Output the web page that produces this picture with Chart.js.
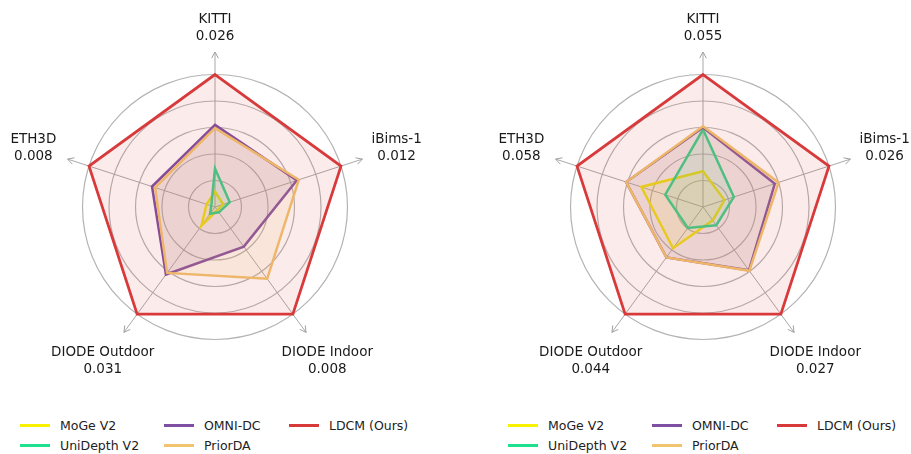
<!DOCTYPE html>
<html lang="en">
<head>
<meta charset="UTF-8">
<title>Radar comparison</title>
<script src="https://cdn.jsdelivr.net/npm/chart.js"></script>
<style>
    body {
        margin: 0;
        background: #ffffff;
        font-family: 'DejaVu Sans', Verdana, sans-serif;
    }
    #page {
        position: relative;
        width: 911px;
        height: 454px;
        overflow: hidden;
    }
    .panel {
        position: absolute;
        top: 0;
        width: 455px;
        height: 400px;
    }
    .legend {
        position: absolute;
        top: 415px;
        display: grid;
        grid-template-columns: 144px 125px auto;
        grid-auto-flow: column;
        grid-template-rows: 20.5px 20.5px;
        font-size: 12.5px;
        color: #222;
    }
    .legend div {
        display: flex;
        align-items: center;
        white-space: nowrap;
    }
    .legend span.swatch {
        display: inline-block;
        width: 30px;
        height: 3px;
        margin-right: 10px;
    }
</style>
</head>
<body>
<div id="page">
    <div class="panel" style="left:0"><canvas id="leftChart"></canvas></div>
    <div class="panel" style="left:455px"><canvas id="rightChart"></canvas></div>
    <div class="legend" id="leftLegend" style="left:20px"></div>
    <div class="legend" id="rightLegend" style="left:508px"></div>
</div>

<script>
    // axes of both radars
    const categories = ['KITTI', 'iBims-1', 'DIODE Indoor', 'DIODE Outdoor', 'ETH3D'];
    // value printed under each axis name
    const leftAxisValues = ['0.026', '0.012', '0.008', '0.031', '0.008'];
    const rightAxisValues = ['0.055', '0.026', '0.027', '0.044', '0.058'];

    const seriesNames = ['MoGe V2', 'UniDepth V2', 'OMNI-DC', 'PriorDA', 'LDCM (Ours)'];
    const seriesColors = ['#f8f200', '#1fe08c', '#7e4fa3', '#f0c46e', '#d83a3b'];

    // normalised scores (LDCM = 1)
    const leftMoge = [0.115, 0.065, 0.03, 0.175, 0.067];
    const leftUnidepth = [0.29, 0.117, 0.05, 0.063, 0.03];
    const leftOmni = [0.62, 0.65, 0.37, 0.63, 0.50];
    const leftPrior = [0.595, 0.665, 0.67, 0.615, 0.475];
    const leftLdcm = [1, 1, 1, 1, 1];

    const rightMoge = [0.27, 0.17, 0.125, 0.385, 0.49];
    const rightUnidepth = [0.585, 0.245, 0.17, 0.195, 0.30];
    const rightOmni = [0.60, 0.57, 0.59, 0.47, 0.61];
    const rightPrior = [0.61, 0.60, 0.595, 0.47, 0.61];
    const rightLdcm = [1, 1, 1, 1, 1];

    function fade(hex, a) {
        const n = parseInt(hex.slice(1), 16);
        return `rgba(${(n >> 16) & 255}, ${(n >> 8) & 255}, ${n & 255}, ${a})`;
    }

    // arrow heads at the end of each spoke + two-line axis labels
    const spokePlugin = {
        id: 'spokes',
        afterDraw(chart, args, opts) {
            const scale = chart.scales.r;
            const ctx = chart.ctx;
            const n = chart.data.labels.length;
            ctx.save();
            ctx.strokeStyle = '#a0a0a0';
            ctx.lineWidth = 1;
            for (let i = 0; i < n; i++) {
                const tip = scale.getPointPosition(i, scale.drawingArea);
                const a = tip.angle;
                ctx.beginPath();
                ctx.moveTo(tip.x - 7 * Math.cos(a - 0.5), tip.y - 7 * Math.sin(a - 0.5));
                ctx.lineTo(tip.x, tip.y);
                ctx.lineTo(tip.x - 7 * Math.cos(a + 0.5), tip.y - 7 * Math.sin(a + 0.5));
                ctx.stroke();
            }
            ctx.fillStyle = '#1a1a1a';
            ctx.font = "13.5px 'DejaVu Sans'";
            ctx.textAlign = 'center';
            ctx.textBaseline = 'middle';
            for (let i = 0; i < n; i++) {
                const up = Math.abs(Math.sin(scale.getIndexAngle(i))) < 0.01;
                const pos = scale.getPointPosition(i, scale.drawingArea * (up ? 1.152 : 1.232));
                ctx.fillText(chart.data.labels[i], pos.x, pos.y - 8.5);
                ctx.fillText(opts.values[i], pos.x, pos.y + 8.5);
            }
            ctx.restore();
        }
    };

    function makeRadar(id, series, values, padLeft, padRight) {
        const datasets = series.map((data, i) => ({
            label: seriesNames[i],
            data: data,
            borderColor: seriesColors[i],
            backgroundColor: fade(seriesColors[i], i === 4 ? 0.1 : 0.12),
            borderWidth: i === 4 ? 2.8 : 2.5,
            fill: true,
            pointRadius: 0,
            order: series.length - i
        }));
        new Chart(document.getElementById(id), {
            type: 'radar',
            data: { labels: categories, datasets: datasets },
            plugins: [spokePlugin],
            options: {
                responsive: true,
                maintainAspectRatio: false,
                animation: false,
                layout: { padding: { left: padLeft, right: padRight, top: 52, bottom: 38 } },
                plugins: {
                    legend: { display: false },
                    tooltip: { enabled: false },
                    spokes: { values: values }
                },
                scales: {
                    r: {
                        min: 0,
                        max: 1.17,
                        ticks: { display: false, stepSize: 0.2, includeBounds: false },
                        grid: {
                            circular: true,
                            color: c => (c.tick && c.tick.value > 1.001) ? 'rgba(0,0,0,0)' : '#b4b4b4',
                            lineWidth: 1.2
                        },
                        angleLines: { color: '#a8a8a8', lineWidth: 1 },
                        pointLabels: { display: false }
                    }
                }
            }
        });
    }

    function makeLegend(id) {
        const box = document.getElementById(id);
        seriesNames.forEach((name, i) => {
            const item = document.createElement('div');
            item.innerHTML = `<span class="swatch" style="background:${seriesColors[i]}"></span>${name}`;
            box.appendChild(item);
        });
    }

    makeRadar('leftChart', [leftMoge, leftUnidepth, leftOmni, leftPrior, leftLdcm], leftAxisValues, 60, 85);
    makeRadar('rightChart', [rightMoge, rightUnidepth, rightOmni, rightPrior, rightLdcm], rightAxisValues, 93, 52);
    makeLegend('leftLegend');
    makeLegend('rightLegend');
</script>
</body>
</html>
